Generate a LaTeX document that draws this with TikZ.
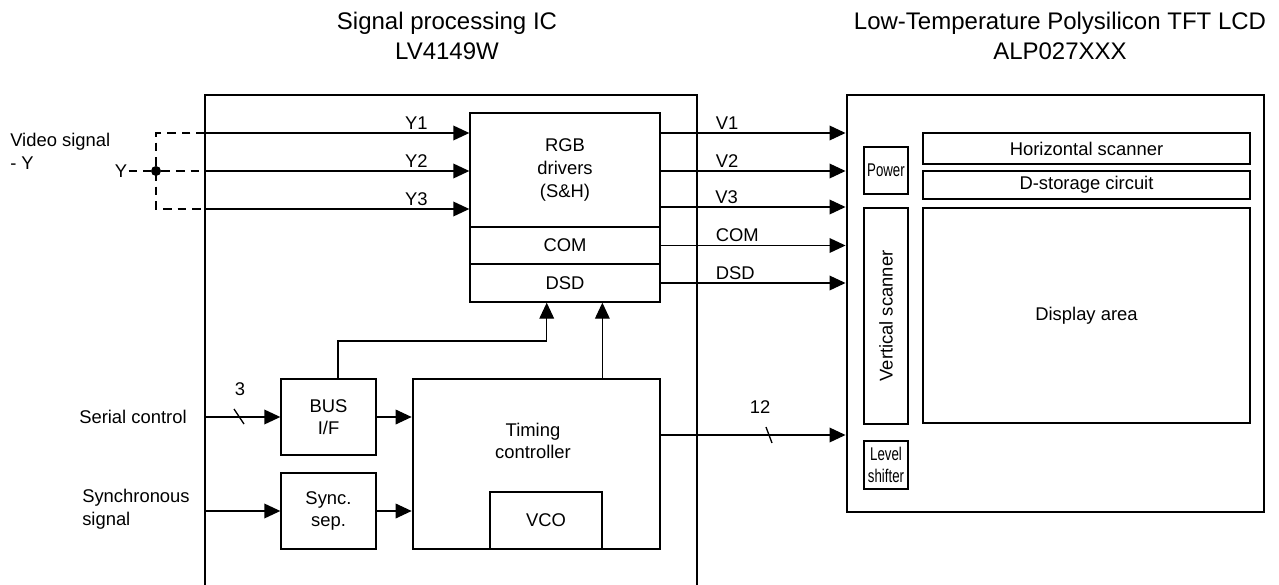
\documentclass[tikz,border=0pt]{standalone}
\usepackage{fontspec}
\setmainfont{Liberation Sans}
\newfontfamily\narrowfont[FakeStretch=0.72]{Liberation Sans}
\usetikzlibrary{arrows.meta,positioning,fit}

\begin{document}
\begin{tikzpicture}[x=0.75pt,y=-0.75pt,>={Triangle[length=12pt,width=11pt]},
  every node/.style={font=\fontsize{13.8}{17}\selectfont,align=center},
  block/.style={draw,line width=1pt,inner sep=0pt},
  chip/.style={draw,line width=2.2pt,inner sep=0pt},
  narrow/.style={font=\narrowfont\fontsize{13.8}{17}\selectfont},
  title/.style={font=\fontsize{18}{22.5}\selectfont},
  sig/.style={->,line width=1pt},
  yline/.style={line width=1pt,dash pattern=on 6.5pt off 4.5pt}]
\useasboundingbox (0,0) rectangle (1279,585);

% titles
\node[title] (ictitle) at (447,36) {Signal processing IC\\LV4149W};
\node[title] (lcdtitle) at (1060,36) {Low-Temperature Polysilicon TFT LCD\\ALP027XXX};

% signal processing IC, cut off at the bottom
\draw[line width=2.2pt] (205,585) -- (205,95) -- (697,95) -- (697,585);
\node[block,fit={(470,113) (660,227)},label=center:{RGB\\drivers\\(S\&H)}] (rgb) {};
\node[block,fit={(470,227) (660,264)},label=center:COM] (com) {};
\node[block,fit={(470,264) (660,302)},label=center:DSD] (dsd) {};
\node[block,fit={(281,379) (376,455)},label=center:{BUS\\I/F}] (busif) {};
\node[block,fit={(281,473) (376,549)},label=center:{Sync.\\sep.}] (syncsep) {};
\node[block,line width=2pt,fit={(413,379) (660,549)}] (timing) {};
\node (timtext) at (533,441) {Timing\\controller};
\node[block,fit={(490,492) (602,549)},label=center:VCO] (vco) {};

% LCD panel
\node[chip,fit={(847,95) (1264,512)}] (lcd) {};
\node[block,fit={(864,147) (908,194)},label={[narrow]center:Power}] (power) {};
\node[block,fit={(864,208) (908,424)},label={[rotate=90]center:Vertical scanner}] (vscan) {};
\node[block,fit={(864,441) (908,489)},label={[narrow]center:{Level\\shifter}}] (lvl) {};
\node[block,fit={(923,133) (1250,164)},label=center:Horizontal scanner] (hscan) {};
\node[block,fit={(923,171) (1250,199)},label=center:D-storage circuit] (dstore) {};
\node[block,fit={(923,208) (1250,423)},label=center:Display area] (disp) {};

% video input
\node[anchor=west,align=left,inner sep=0pt] (video) at (10,151) {Video signal\\- Y};
\node[inner sep=1pt] (yname) at (121,171) {Y};
\node[circle,fill,inner sep=0pt,minimum size=7.5pt] (ydot) at (156,171) {};
\coordinate (yin1) at (205,133);
\coordinate (yin2) at (205,171);
\coordinate (yin3) at (205,209);
\draw[yline] (yname) -- (ydot);
\draw[yline] (ydot) -- (yin2);
\draw[yline] (yin1) -| (ydot.center) |- (yin3);
\draw[sig] (yin1) -- node[pos=0.8,above,inner sep=2pt] {Y1} (yin1 -| rgb.west);
\draw[sig] (yin2) -- node[pos=0.8,above,inner sep=2pt] {Y2} (yin2 -| rgb.west);
\draw[sig] (yin3) -- node[pos=0.8,above,inner sep=2pt] {Y3} (yin3 -| rgb.west);

% outputs to the panel
\coordinate (vout3) at (660,207);
\draw[sig] (yin1 -| rgb.east) -- node[pos=0.28,above right,inner sep=2pt] {V1} (yin1 -| lcd.west);
\draw[sig] (yin2 -| rgb.east) -- node[pos=0.28,above right,inner sep=2pt] {V2} (yin2 -| lcd.west);
\draw[sig] (vout3) -- node[pos=0.28,above right,inner sep=2pt] {V3} (vout3 -| lcd.west);
\draw[sig] (com.east) -- node[pos=0.28,above right,inner sep=2pt] {COM} (com.east -| lcd.west);
\draw[sig] (dsd.east) -- node[pos=0.28,above right,inner sep=2pt] {DSD} (dsd.east -| lcd.west);

% control side
\node[anchor=west,inner sep=0pt] (serial) at (79,417) {Serial control};
\node[anchor=west,align=left,inner sep=0pt] (sync) at (82,509) {Synchronous\\signal};
\coordinate (serin) at (205,417);
\coordinate (syncin) at (205,511);
\draw[sig] (serin) -- (busif.west);
\node (three) at (240,389) {3};
\draw[line width=1pt] (234,409) -- (244,424);
\draw[sig] (busif.east) -- (busif.east -| timing.west);
\draw[sig] (syncin) -- (syncsep.west);
\draw[sig] (syncsep.east) -- (syncsep.east -| timing.west);
\coordinate (bend) at (338,341);
\draw[sig] (busif.north -| bend) -- (bend) -| ([xshift=-13.7pt]dsd.south);
\draw[sig] ([xshift=49.4pt]timing.north) -- ([xshift=49.4pt]timing.north |- dsd.south);
\coordinate (tout) at (660,435);
\draw[sig] (tout) -- (tout -| lcd.west);
\node (twelve) at (760,407) {12};
\draw[line width=1pt] (766,427) -- (772,443);
\end{tikzpicture}
\end{document}
